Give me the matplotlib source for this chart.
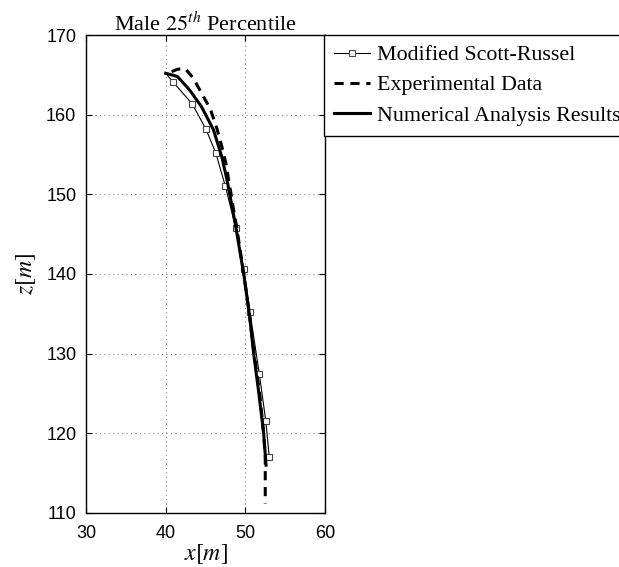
import matplotlib
matplotlib.use("Agg")
import matplotlib.pyplot as plt

plt.rcParams['mathtext.fontset'] = 'stix'
plt.rcParams['font.family'] = ['Liberation Sans', 'DejaVu Sans']

# Modified Scott-Russel
x_sr = [40.0, 40.96, 43.34, 45.06, 46.28, 47.50, 48.79, 49.79, 50.58, 51.75, 52.56, 53.01]
z_sr = [165.2, 164.06, 161.34, 158.16, 155.23, 151.0, 145.8, 140.67, 135.2, 127.5, 121.6, 117.0]

# Experimental Data
x_exp = [40.75, 41.5, 42.43, 43.46, 44.72, 45.57, 46.42, 47.05, 47.6, 47.9, 48.2, 48.5, 48.9,
         49.8, 50.5, 51.1, 51.8, 52.3, 52.5, 52.5]
z_exp = [165.4, 165.7, 165.8, 164.6, 162.3, 160.8, 158.3, 156.0, 153.7, 151.8, 150.1, 148.2, 146.0,
         140.0, 135.0, 130.0, 125.0, 120.0, 117.0, 111.2]

# Numerical Analysis Results
x_num = [40.0, 41.1, 41.5, 43.0, 44.5, 46.0, 47.05, 47.7, 48.1, 48.7, 49.8, 50.5, 51.05, 51.7, 52.3, 52.6]
z_num = [165.2, 164.9, 164.77, 163.1, 161.0, 158.1, 154.7, 151.8, 149.7, 146.5, 140.0, 135.0, 130.0,
         125.0, 120.0, 116.0]

labels = ['Modified Scott-Russel', 'Experimental Data', 'Numerical Analysis Results']
xticks = [30, 40, 50, 60]
yticks = [110, 120, 130, 140, 150, 160, 170]

W, H = 619, 567
fig = plt.figure(figsize=(W / 100, H / 100), dpi=100)
ax = fig.add_axes([86 / W, 1 - 513 / H, (325 - 86) / W, (513 - 35) / H])

l1, = ax.plot(x_sr, z_sr, color='black', lw=0.8, marker='s', markersize=4.5,
              markerfacecolor='white', markeredgecolor='#444444', markeredgewidth=0.8,
              markevery=list(range(1, len(x_sr))))
l2, = ax.plot(x_exp, z_exp, color='black', lw=2.2, linestyle=(0, (3, 2.2)))
l3, = ax.plot(x_num, z_num, color='black', lw=2.2)

ax.set_xlim(30, 60)
ax.set_ylim(110, 170)
ax.set_xticks(xticks)
ax.set_yticks(yticks)
ax.tick_params(direction='in', top=True, right=True, labelsize=13, length=4, width=0.8)
ax.tick_params(axis='x', pad=9)
ax.tick_params(axis='y', pad=7)
ax.grid(True, linestyle=(0, (1, 3)), color='#888888', linewidth=0.8)
for s in ax.spines.values():
    s.set_linewidth(1.0)

ax.set_title('Male $25^{th}$ Percentile', family='Liberation Serif', fontsize=16, pad=3)
ax.set_xlabel('$x[m]$', fontsize=17, labelpad=0)
ax.set_ylabel('$z[m]$', fontsize=17, labelpad=5.5)

leg = fig.legend([l1, l2, l3], labels, loc='upper left',
                 bbox_to_anchor=(324 / W, 1 - 35 / H), borderaxespad=0,
                 fancybox=False, edgecolor='black', framealpha=1,
                 prop={'family': 'Liberation Serif', 'size': 15.8},
                 handlelength=1.65, handletextpad=0.3, labelspacing=0.45,
                 borderpad=0.45)
leg.get_frame().set_linewidth(1.0)

fig.savefig('out.png', dpi=100)
